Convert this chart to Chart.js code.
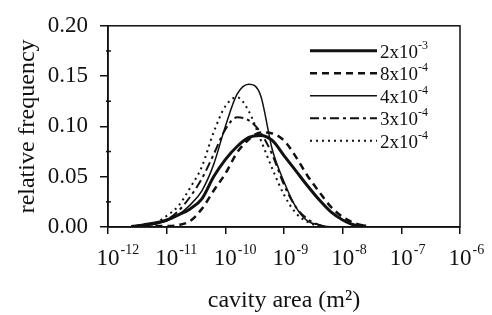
<!DOCTYPE html>
<html>
<head>
<meta charset="utf-8">
<script src="https://cdn.jsdelivr.net/npm/chart.js@4.4.1/dist/chart.umd.min.js"></script>
<style>
    html, body { margin: 0; padding: 0; background: #fff; }
    #wrap { width: 492px; height: 315px; }
</style>
</head>
<body>
<div id="wrap"><canvas id="cavityChart" width="492" height="315"></canvas></div>
<script>
// log10 of cavity area (m2) where the curves were read
var logArea = [-11.6, -11.4, -11.2, -11.0, -10.8, -10.6, -10.4, -10.2, -10.0, -9.8, -9.6,
               -9.4, -9.2, -9.0, -8.8, -8.6, -8.4, -8.2, -8.0, -7.8, -7.6];

// relative frequency, one list per curve
var freq2e3 = [0.000, 0.002, 0.004, 0.007, 0.012, 0.018, 0.028, 0.050, 0.067, 0.080, 0.089,
               0.091, 0.086, 0.071, 0.056, 0.041, 0.027, 0.015, 0.007, 0.002, 0.001];
var freq8e4 = [0.000, 0.000, 0.001, 0.001, 0.002, 0.006, 0.018, 0.036, 0.053, 0.074, 0.087,
               0.094, 0.093, 0.086, 0.070, 0.051, 0.035, 0.020, 0.010, 0.004, 0.001];
var freq4e4 = [0.000, 0.001, 0.003, 0.006, 0.012, 0.022, 0.036, 0.062, 0.100, 0.132, 0.142,
               0.131, 0.077, 0.045, 0.020, 0.006, 0.002, 0.000, 0.000, 0.000, 0.000];
var freq3e4 = [0.001, 0.002, 0.003, 0.007, 0.016, 0.030, 0.048, 0.072, 0.097, 0.109, 0.106,
               0.094, 0.072, 0.042, 0.020, 0.008, 0.002, 0.000, 0.000, 0.000, 0.000];
var freq2e4 = [0.001, 0.002, 0.004, 0.011, 0.021, 0.039, 0.060, 0.094, 0.120, 0.129, 0.115,
               0.087, 0.058, 0.032, 0.014, 0.005, 0.001, 0.000, 0.000, 0.000, 0.000];

var seriesNames = [['2x10', '-3'], ['8x10', '-4'], ['4x10', '-4'], ['3x10', '-4'], ['2x10', '-4']];
var xTickExp = [-12, -11, -10, -9, -8, -7, -6];
var yMinorTicks = [0.025, 0.075, 0.125, 0.175];

var serif = "'Liberation Serif', 'Times New Roman', serif";
var ink = '#111';

function toPoints(vals) {
    return vals.map(function (v, i) { return { x: Math.pow(10, logArea[i]), y: v }; });
}

var styles = [
    { borderWidth: 3, borderDash: [] },
    { borderWidth: 2.5, borderDash: [7, 5] },
    { borderWidth: 1.5, borderDash: [] },
    { borderWidth: 2, borderDash: [9, 4, 3, 4] },
    { borderWidth: 2, borderDash: [2, 4] }
];
var allFreq = [freq2e3, freq8e4, freq4e4, freq3e4, freq2e4];

var datasets = allFreq.map(function (vals, i) {
    return {
        label: seriesNames[i].join(''),
        data: toPoints(vals),
        borderColor: ink,
        borderWidth: styles[i].borderWidth,
        borderDash: styles[i].borderDash,
        pointRadius: 0,
        fill: false,
        cubicInterpolationMode: 'monotone'
    };
});

// frame, minor ticks, superscript tick labels and the legend
var decorations = {
    id: 'decorations',
    afterDraw: function (chart) {
        var ctx = chart.ctx;
        var area = chart.chartArea;
        var xs = chart.scales.x, ys = chart.scales.y;
        ctx.save();
        ctx.strokeStyle = ink;
        ctx.fillStyle = ink;
        ctx.lineWidth = 1.5;
        ctx.setLineDash([]);
        ctx.strokeRect(area.left, area.top, area.right - area.left, area.bottom - area.top);

        // minor y ticks
        yMinorTicks.forEach(function (v) {
            var y = ys.getPixelForValue(v);
            ctx.beginPath();
            ctx.moveTo(area.left - 2, y);
            ctx.lineTo(area.left + 3, y);
            ctx.stroke();
        });

        // x tick labels 10^n
        xTickExp.forEach(function (e) {
            var x = xs.getPixelForValue(Math.pow(10, e));
            ctx.font = '23px ' + serif;
            ctx.textAlign = 'center';
            ctx.textBaseline = 'alphabetic';
            var w = ctx.measureText('10').width;
            ctx.fillText('10', x, area.bottom + 38);
            ctx.font = '14px ' + serif;
            ctx.textAlign = 'left';
            ctx.fillText(String(e), x + w / 2 + 1, area.bottom + 27);
        });

        // legend
        chart.data.datasets.forEach(function (ds, i) {
            var y = area.top + 25 + i * 22.5;
            ctx.lineWidth = ds.borderWidth;
            ctx.setLineDash(ds.borderDash);
            ctx.beginPath();
            ctx.moveTo(area.right - 150, y);
            ctx.lineTo(area.right - 83, y);
            ctx.stroke();
            ctx.setLineDash([]);
            ctx.font = '19px ' + serif;
            ctx.textAlign = 'left';
            ctx.textBaseline = 'alphabetic';
            var base = seriesNames[i][0];
            ctx.fillText(base, area.right - 80, y + 7);
            var w = ctx.measureText(base).width;
            ctx.font = '12px ' + serif;
            ctx.fillText(seriesNames[i][1], area.right - 80 + w, y - 2);
        });
        ctx.restore();
    }
};

var ctx1 = document.getElementById('cavityChart').getContext('2d');
var cavityChart = new Chart(ctx1, {
    type: 'line',
    data: { datasets: datasets },
    options: {
        responsive: false,
        animation: false,
        devicePixelRatio: 1,
        layout: { padding: { left: 0, top: 18, right: 32, bottom: 0 } },
        plugins: { legend: { display: false }, tooltip: { enabled: false } },
        scales: {
            x: {
                type: 'logarithmic',
                min: 1e-12,
                max: 1e-6,
                afterBuildTicks: function (scale) {
                    scale.ticks = xTickExp.map(function (e) { return { value: Math.pow(10, e) }; });
                },
                afterFit: function (scale) { scale.height = 88; },
                ticks: { display: false },
                grid: { drawOnChartArea: false, drawTicks: true, tickLength: 7, color: ink, lineWidth: 1.5 },
                border: { display: true, color: ink, width: 1.5 },
                title: {
                    display: true,
                    text: 'cavity area (m\u00B2)',
                    color: ink,
                    font: { family: serif, size: 24, lineHeight: 1.2 },
                    padding: { top: 0, bottom: 0 }
                }
            },
            y: {
                min: 0,
                max: 0.2,
                afterFit: function (scale) { scale.width = 108; },
                ticks: {
                    stepSize: 0.05,
                    color: ink,
                    padding: 12,
                    font: { family: serif, size: 23 },
                    callback: function (v) { return v.toFixed(2); }
                },
                grid: { drawOnChartArea: false, drawTicks: true, tickLength: 8, color: ink, lineWidth: 1.5 },
                border: { display: true, color: ink, width: 1.5 },
                title: {
                    display: true,
                    text: 'relative frequency',
                    color: ink,
                    font: { family: serif, size: 24, lineHeight: 1.2 },
                    padding: { top: 13, bottom: 0 }
                }
            }
        }
    },
    plugins: [decorations]
});
</script>
</body>
</html>
